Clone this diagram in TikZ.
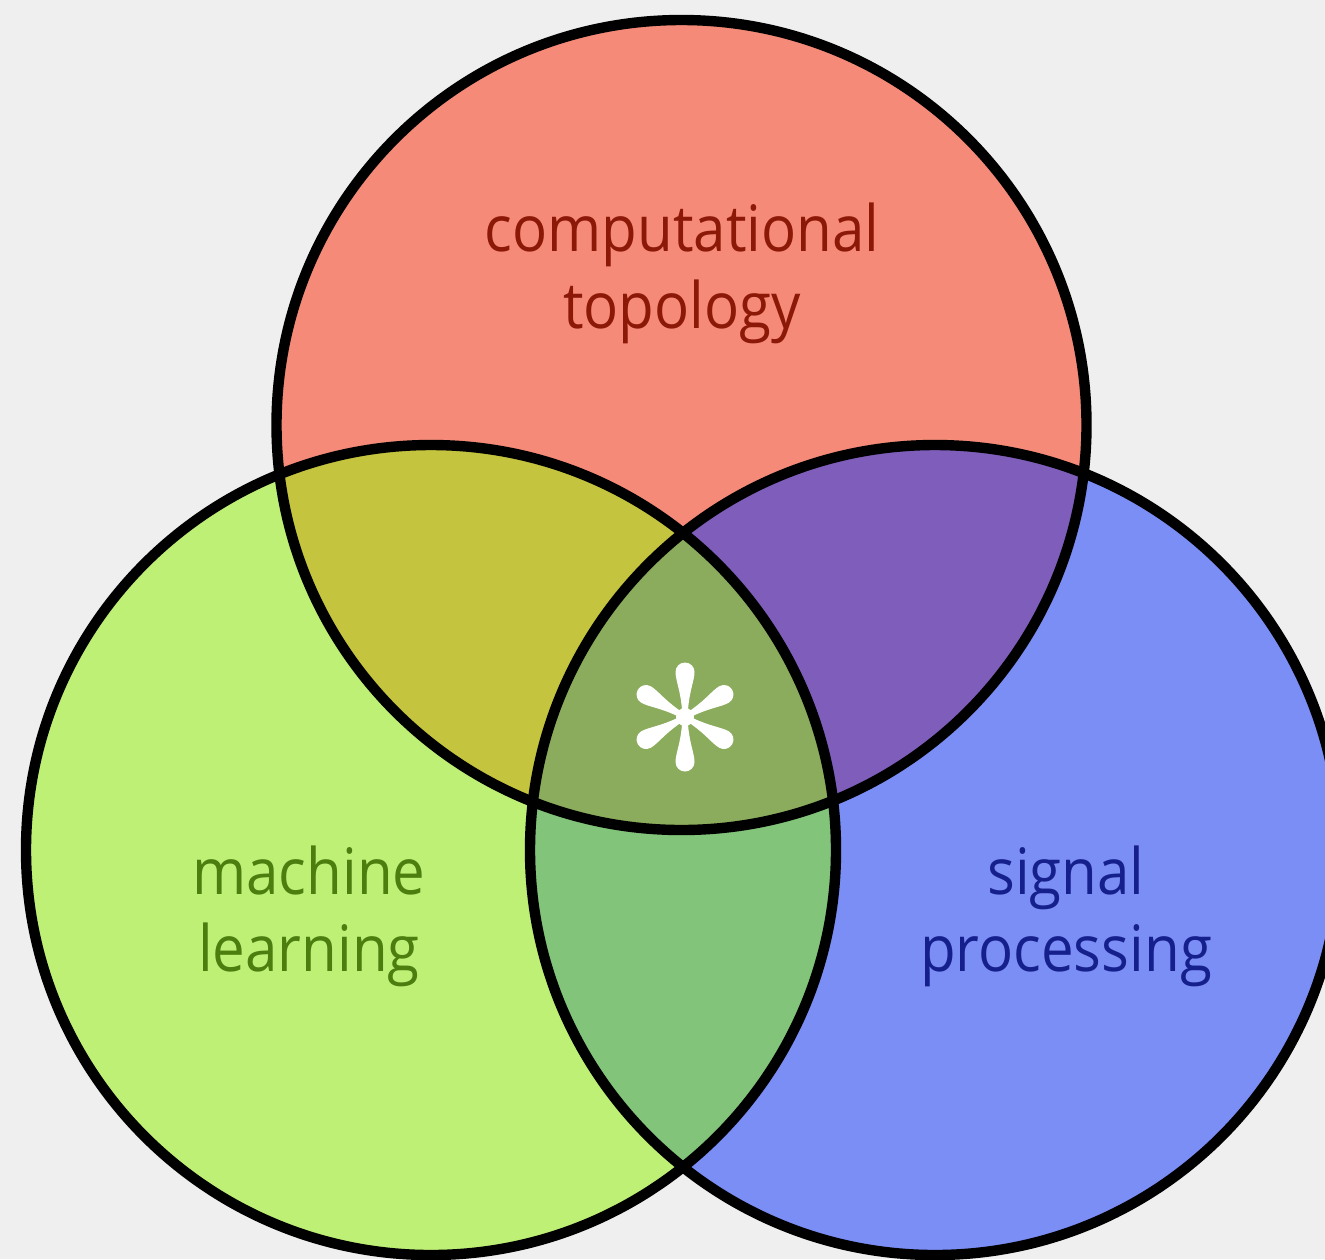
\documentclass[tikz,border=0pt]{standalone}
\usepackage{fontspec}
\setmainfont{Open Sans}
\usepackage{graphicx}

% region colours
\definecolor{bgpaper}{RGB}{239,239,239}
\definecolor{topfill}{RGB}{245,138,120}
\definecolor{leftfill}{RGB}{190,240,118}
\definecolor{rightfill}{RGB}{122,142,245}
\definecolor{topleft}{RGB}{196,196,62}
\definecolor{topright}{RGB}{126,94,186}
\definecolor{leftright}{RGB}{130,196,122}
\definecolor{allthree}{RGB}{138,172,92}
% label colours
\definecolor{toptext}{RGB}{140,24,8}
\definecolor{lefttext}{RGB}{75,125,15}
\definecolor{righttext}{RGB}{22,32,140}

\newcommand{\narrowtext}[1]{\scalebox{0.91}[1]{#1}}

\tikzset{
  setlabel/.style={font=\fontsize{32}{38.5}\selectfont, align=center, anchor=base, inner sep=0pt},
  ring/.style={draw=black, line width=5.2pt},
}

\begin{document}
\begin{tikzpicture}[x=0.5pt, y=-0.5pt]
  \useasboundingbox (0,0) rectangle (1325,1259);
  \fill[bgpaper] (0,0) rectangle (1325,1259);

  \coordinate (ct) at (681.5,425);
  \coordinate (cl) at (431,850);
  \coordinate (cr) at (935,850);
  \def\R{202.5pt}

  % single sets
  \fill[topfill]   (ct) circle[radius=\R];
  \fill[leftfill]  (cl) circle[radius=\R];
  \fill[rightfill] (cr) circle[radius=\R];

  % pairwise overlaps
  \begin{scope}
    \clip (ct) circle[radius=\R];
    \fill[topleft] (cl) circle[radius=\R];
  \end{scope}
  \begin{scope}
    \clip (ct) circle[radius=\R];
    \fill[topright] (cr) circle[radius=\R];
  \end{scope}
  \begin{scope}
    \clip (cl) circle[radius=\R];
    \fill[leftright] (cr) circle[radius=\R];
  \end{scope}
  % triple overlap
  \begin{scope}
    \clip (ct) circle[radius=\R];
    \clip (cl) circle[radius=\R];
    \fill[allthree] (cr) circle[radius=\R];
  \end{scope}

  % outlines
  \draw[ring] (ct) circle[radius=\R];
  \draw[ring] (cl) circle[radius=\R];
  \draw[ring] (cr) circle[radius=\R];

  % labels (anchored on the baseline of their last line)
  \node[setlabel, text=toptext] (toplabel) at (682,328)
    {\narrowtext{computational}\\\narrowtext{topology}};
  \node[setlabel, text=lefttext] (leftlabel) at (309,971)
    {\narrowtext{machine}\\\narrowtext{learning}};
  \node[setlabel, text=righttext] (rightlabel) at (1066,971)
    {\narrowtext{signal}\\\narrowtext{processing}};

  % asterisk in the common region
  \begin{scope}[shift={(685,717)}, x=0.5pt, y=0.5pt]
    \foreach \a in {30,90,150,210,270,330} {
      \fill[white, rotate=\a]
        (0,-2.5) .. controls (25,-3.5) and (36,-9.5) .. (45,-9.5)
        arc[start angle=-90, end angle=90, radius=9.5]
        .. controls (36,9.5) and (25,3.5) .. (0,2.5) -- cycle;
    }
    \fill[white] (0,0) circle[radius=9];
  \end{scope}
\end{tikzpicture}
\end{document}
